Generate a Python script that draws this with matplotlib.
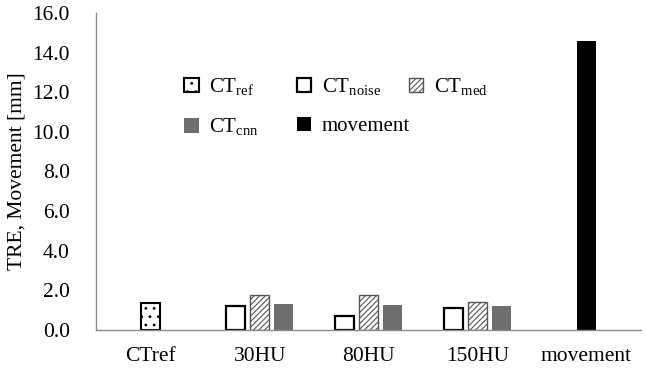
import matplotlib
matplotlib.use('Agg')
import matplotlib.pyplot as plt
from matplotlib.legend import Legend
import numpy as np

plt.rcParams['font.family'] = 'Liberation Serif'
plt.rcParams['mathtext.fontset'] = 'custom'
plt.rcParams['mathtext.rm'] = 'Liberation Serif'
plt.rcParams['hatch.linewidth'] = 0.8

# data
categories = ['CTref', '30HU', '80HU', '150HU', 'movement']
ct_ref = [1.35]
ct_noise = [1.21, 0.71, 1.10]
ct_med = [1.77, 1.77, 1.41]
ct_cnn = [1.31, 1.25, 1.20]
movement = [14.6]

x = np.arange(len(categories))
slot = 0.22
w = 0.175

fig, ax = plt.subplots(figsize=(6.46, 3.70), dpi=100)
fig.subplots_adjust(left=0.149, right=0.992, bottom=0.108, top=0.965)

b_ref = ax.bar(x[:1], ct_ref, w, facecolor='white', edgecolor='black', hatch='..',
               linewidth=1.5, label=r'CT$_{\rm ref}$')
b_noise = ax.bar(x[1:4] - slot, ct_noise, w, facecolor='white', edgecolor='black',
                 linewidth=1.6, label=r'CT$_{\rm noise}$')
b_med = ax.bar(x[1:4], ct_med, w, facecolor='white', edgecolor='#555555', hatch='//////',
               linewidth=1.0, label=r'CT$_{\rm med}$')
b_cnn = ax.bar(x[1:4] + slot, ct_cnn, w, color='#6e6e6e', label=r'CT$_{\rm cnn}$')
b_mov = ax.bar(x[4:], movement, w, color='black', label='movement')

ax.set_xlim(-0.5, 4.5)
ax.set_ylim(0, 16)
ax.set_yticks(np.arange(0, 16.1, 2))
ax.set_yticklabels(['%.1f' % v for v in np.arange(0, 16.1, 2)])
ax.set_xticks(x)
ax.set_xticklabels(categories)
ax.tick_params(labelsize=15.5, length=0)
ax.tick_params(axis='x', pad=12)
ax.tick_params(axis='y', pad=19)
ax.set_ylabel('TRE, Movement [mm]', fontsize=15.5, labelpad=4)

for s in ['top', 'right']:
    ax.spines[s].set_visible(False)
for s in ['left', 'bottom']:
    ax.spines[s].set_color('#8c8c8c')
    ax.spines[s].set_linewidth(1.0)

# one legend per column so the columns sit at fixed spacing
columns = [[b_ref, b_cnn], [b_noise, b_mov], [b_med]]
col_x = [0.162, 0.368, 0.574]
for hs, cx in zip(columns, col_x):
    leg = Legend(ax, hs, [h.get_label() for h in hs], frameon=False,
                 fontsize=15, loc='upper left', bbox_to_anchor=(cx, 0.80),
                 handlelength=0.7, handleheight=0.7, handletextpad=0.5,
                 labelspacing=0.9, borderaxespad=0, borderpad=0)
    ax.add_artist(leg)

fig.savefig('out.png', dpi=100)
